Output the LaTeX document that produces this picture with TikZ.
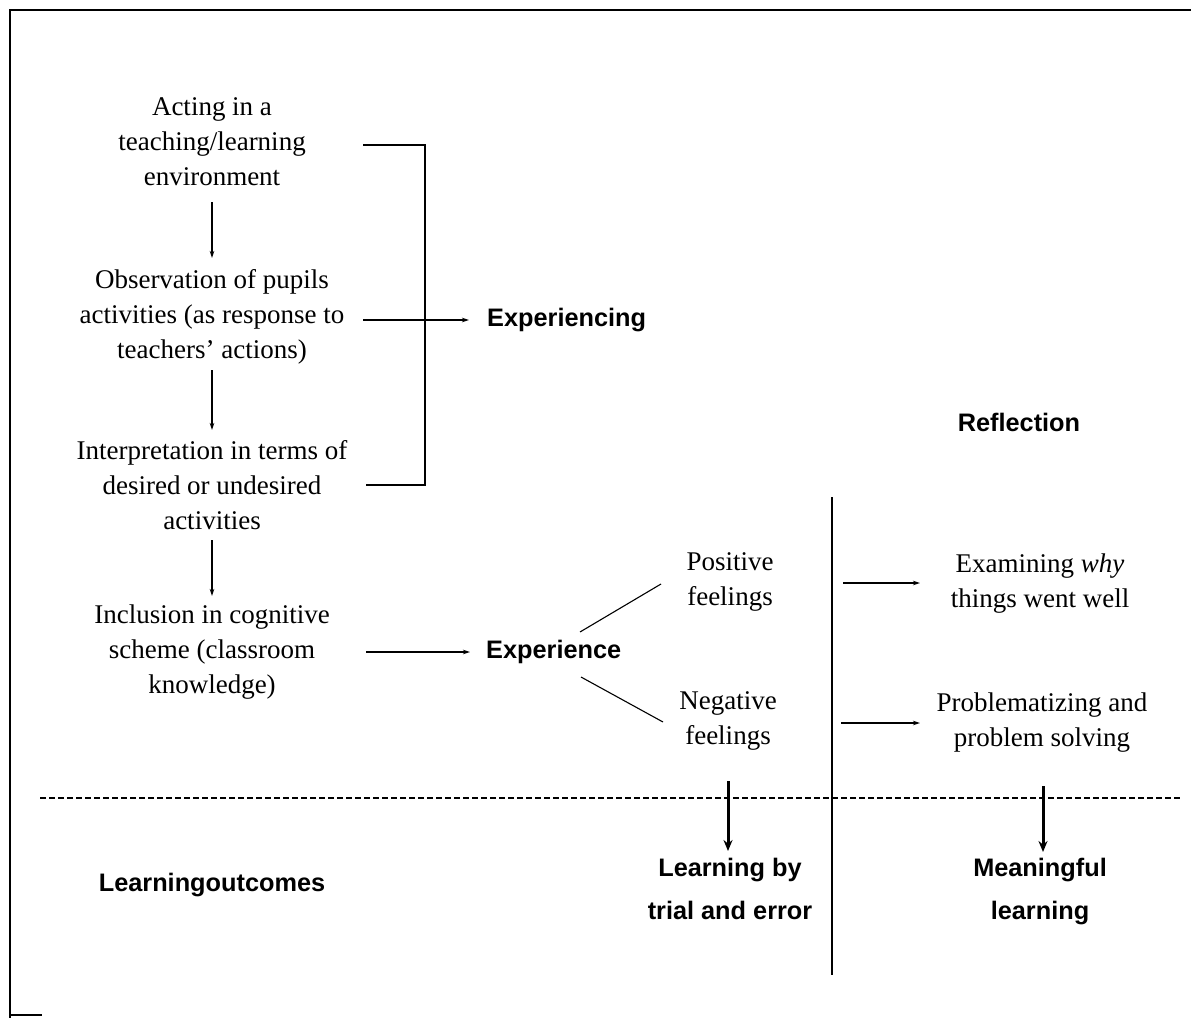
\documentclass[tikz,border=0pt]{standalone}
\usepackage{fontspec}
\setmainfont{Liberation Serif}
\newfontfamily\hsans{Liberation Sans}
\usetikzlibrary{arrows.meta}
\begin{document}
\begin{tikzpicture}[x=1pt,y=-1pt,
  txt/.style={align=center,inner sep=0pt,font=\fontsize{27}{35}\selectfont},
  bold/.style={inner sep=0pt,align=center,font=\hsans\bfseries\fontsize{25.3}{43}\selectfont},
  thin/.style={line width=1.1pt},
  tip/.style={thin,-{Stealth[length=7pt,width=4.5pt]}},
  thick/.style={line width=3pt,-{Stealth[length=11pt,width=9pt]}}]
\useasboundingbox (0,0) rectangle (1191,1018);
% partial frame
\draw[thin] (1191,10) -- (10,10) -- (10,1018);
\draw[thin] (10,1015) -- (42,1015);
% left column
\node[txt] (A) at (212,142) {Acting in a\\teaching/learning\\environment};
\node[txt] (B) at (212,317) {Observation of pupils\\activities (as response to\\teachers' actions)};
\node[txt] (C) at (212,485) {Interpretation in terms of\\desired or undesired\\activities};
\node[txt] (D) at (212,652) {Inclusion in cognitive\\scheme (classroom\\knowledge)};
\coordinate (a1) at (212,202); \coordinate (b1) at (212,258);
\coordinate (b2) at (212,370); \coordinate (c1) at (212,430);
\coordinate (c2) at (212,540); \coordinate (d1) at (212,596);
\draw[tip] (a1) -- (b1);
\draw[tip] (b2) -- (c1);
\draw[tip] (c2) -- (d1);
% bracket
\coordinate (bt) at (363,145); \coordinate (bc) at (425,145);
\coordinate (bb) at (425,485); \coordinate (bl) at (366,485);
\draw[thin] (bt) -- (bc) -- (bb) -- (bl);
\node[bold,anchor=west] (Ex) at (487,320) {Experiencing};
\coordinate (bm) at (363,320);
\draw[tip,shorten >=18pt] (bm) -- (Ex.west);
% experience
\node[bold,anchor=west] (E) at (486,652) {Experience};
\coordinate (dm) at (366,652);
\draw[tip,shorten >=16pt] (dm) -- (E.west);
\node[txt] (P) at (730,582) {Positive\\feelings};
\node[txt] (N) at (728,721) {Negative\\feelings};
\coordinate (e1) at (580,632); \coordinate (p1) at (661,584);
\coordinate (e2) at (581,677); \coordinate (n1) at (663,722);
\draw[thin] (e1) -- (p1);
\draw[thin] (e2) -- (n1);
% reflection
\node[bold] (R) at (1019,422) {Reflection};
\coordinate (v1) at (832,497); \coordinate (v2) at (832,975);
\draw[thin] (v1) -- (v2);
\node[txt] (X) at (1040,584) {Examining \textit{why}\\things went well};
\node[txt] (Q) at (1042,723) {Problematizing and\\problem solving};
\coordinate (p2) at (843,583); \coordinate (x1) at (920,583);
\coordinate (n2) at (841,723); \coordinate (q1) at (920,723);
\draw[tip] (p2) -- (x1);
\draw[tip] (n2) -- (q1);
% dashed line
\coordinate (h1) at (40,798); \coordinate (h2) at (1180,798);
\draw[thin,dash pattern=on 6pt off 3pt] (h1) -- (h2);
% outcomes
\node[bold] (LO) at (212,885) {Learningoutcomes};
\node[bold] (LT) at (730,889) {Learning by\\trial and error};
\node[bold] (ML) at (1040,891) {Meaningful\\learning};
\coordinate (t1) at (728,781); \coordinate (t2) at (728,851);
\coordinate (m1) at (1043,786); \coordinate (m2) at (1043,852);
\draw[thick] (t1) -- (t2);
\draw[thick] (m1) -- (m2);
\end{tikzpicture}
\end{document}
